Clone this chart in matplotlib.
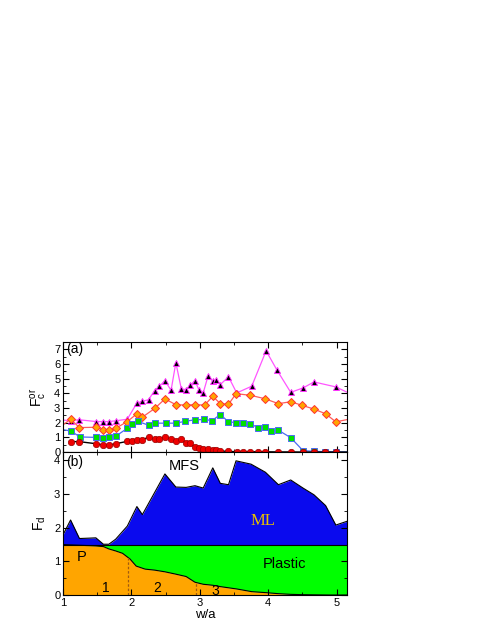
import numpy as np
import matplotlib
matplotlib.use("Agg")
from matplotlib import pyplot as plt
from matplotlib.ticker import MultipleLocator

plt.rcParams['font.family'] = ['Liberation Sans', 'DejaVu Sans']
plt.rcParams['mathtext.fontset'] = 'custom'
plt.rcParams['mathtext.rm'] = 'Liberation Sans'
plt.rcParams['mathtext.it'] = 'Liberation Sans'

# panel (a): critical forces, four curves
tri_x = [0.9, 1.11, 1.24, 1.48, 1.59, 1.67, 1.77, 1.94, 2.08, 2.16, 2.25, 2.34, 2.41,
         2.49, 2.58, 2.65, 2.73, 2.80, 2.86, 2.93, 2.99, 3.05, 3.12, 3.19, 3.24, 3.30,
         3.42, 3.54, 3.76, 3.97, 4.13, 4.33, 4.51, 4.67, 4.99, 5.3]
tri_y = [2.2, 2.15, 2.2, 2.08, 2.08, 2.08, 2.13, 2.24, 3.34, 3.46, 3.57, 4.19, 4.49,
         4.87, 4.21, 6.09, 4.30, 4.26, 4.55, 4.87, 4.21, 4.03, 5.17, 4.83, 4.94, 4.6,
         5.13, 4.03, 4.49, 6.9, 5.58, 4.07, 4.37, 4.78, 4.44, 3.76]

dia_x = [0.9, 1.11, 1.24, 1.48, 1.59, 1.67, 1.77, 1.94, 2.08, 2.16, 2.34, 2.49, 2.65,
         2.80, 2.93, 3.07, 3.19, 3.30, 3.42, 3.53, 3.74, 3.95, 4.15, 4.33, 4.50, 4.67,
         4.84, 4.99, 5.3]
dia_y = [1.5, 2.24, 1.67, 1.69, 1.51, 1.51, 1.62, 2.08, 2.61, 2.38, 2.97, 3.62, 3.23,
         3.2, 3.23, 3.2, 3.8, 3.3, 3.25, 3.98, 3.87, 3.64, 3.3, 3.43, 3.18, 2.93,
         2.61, 2.06, 2.35]

sq_x = [0.9, 1.11, 1.25, 1.48, 1.59, 1.67, 1.77, 1.94, 2.01, 2.09, 2.25, 2.34, 2.50,
        2.65, 2.79, 2.93, 3.06, 3.18, 3.30, 3.42, 3.53, 3.63, 3.74, 3.85, 3.95, 4.04,
        4.15, 4.33, 4.51, 4.67, 4.83, 4.99, 5.3]
sq_y = [1.6, 1.44, 1.03, 1.0, 0.98, 1.0, 1.08, 1.62, 1.88, 2.1, 1.83, 1.97, 1.97,
        1.97, 2.1, 2.2, 2.22, 2.15, 2.56, 2.06, 2.01, 1.95, 1.92, 1.67, 1.74, 1.44,
        1.49, 0.98, 0.1, 0.05, 0.03, 0.02, 0.0]

circ_x = [1.11, 1.24, 1.48, 1.59, 1.67, 1.77, 1.94, 2.01, 2.08, 2.16, 2.25, 2.34, 2.41,
          2.49, 2.58, 2.65, 2.73, 2.80, 2.86, 2.93, 2.99, 3.05, 3.12, 3.19, 3.24, 3.30,
          3.42, 3.54, 3.63, 3.74, 3.85, 3.95, 4.15, 4.33, 4.51, 4.67, 4.83, 4.99, 5.3]
circ_y = [0.71, 0.71, 0.57, 0.48, 0.48, 0.57, 0.73, 0.76, 0.82, 0.85, 1.01, 0.87, 0.87,
          1.05, 0.87, 0.78, 0.87, 0.62, 0.62, 0.32, 0.30, 0.21, 0.20, 0.16, 0.12, 0.08,
          0.04, 0.03, 0.02, 0.02, 0.02, 0.02, 0.01, 0.01, 0.0, 0.0, 0.0, 0.0, 0.0]

# panel (b): dynamic phase diagram
mfs_x = [1.0, 1.11, 1.24, 1.37, 1.48, 1.59, 1.67, 1.77, 1.94, 2.08, 2.16, 2.34, 2.49,
         2.65, 2.80, 2.93, 3.05, 3.19, 3.30, 3.42, 3.53, 3.75, 3.96, 4.15, 4.33, 4.51,
         4.67, 4.84, 4.99, 5.15]
mfs_y = [1.79, 2.23, 1.68, 1.69, 1.70, 1.51, 1.51, 1.66, 2.05, 2.63, 2.39, 3.05, 3.60,
         3.21, 3.20, 3.25, 3.18, 3.78, 3.32, 3.28, 3.99, 3.89, 3.65, 3.28, 3.42, 3.18,
         2.98, 2.66, 2.08, 2.19]

p_x = [1.0, 1.24, 1.48, 1.59, 1.67, 1.77, 1.87, 1.98, 2.07, 2.20, 2.34, 2.49, 2.65,
       2.80, 2.93, 3.05, 3.19, 3.30, 3.54, 3.76, 3.97, 4.15, 4.33, 4.51, 4.9, 5.15]
p_y = [1.50, 1.48, 1.46, 1.44, 1.37, 1.31, 1.24, 1.07, 0.86, 0.77, 0.74, 0.69, 0.62,
       0.55, 0.38, 0.32, 0.29, 0.25, 0.18, 0.10, 0.07, 0.04, 0.02, 0.01, 0.0, 0.0]

plastic_level = 1.5
dash_x = [1.95, 2.95]
region_labels = ['1', '2', '3']
region_x = [1.62, 2.38, 3.23]
region_y = [0.2, 0.2, 0.12]

fig = plt.figure(figsize=(4.85, 6.27), dpi=100)
ax1 = fig.add_axes([0.130, 0.279, 0.585, 0.1755])
ax2 = fig.add_axes([0.130, 0.051, 0.585, 0.228])

ax1.plot(tri_x, tri_y, '-^', color='#ff55ff', lw=0.9, ms=4.5,
         mfc='black', mec='#ff33ff', mew=0.7)
ax1.plot(dia_x, dia_y, '-D', color='#ff5a5a', lw=0.9, ms=3.6,
         mfc='#ffa500', mec='#ff3030', mew=0.7)
ax1.plot(sq_x, sq_y, '-s', color='#4a6cf0', lw=0.9, ms=4.0,
         mfc='#00e000', mec='#4a6cf0', mew=0.7)
ax1.plot(circ_x, circ_y, '-o', color='black', lw=1.0, ms=4.6,
         mfc='#ee0000', mec='#990000', mew=0.5)

ax1.set_xlim(1, 5.15)
ax1.set_ylim(0, 7.5)
ax1.set_ylabel(r'F$_c^{or}$', fontsize=10)
ax1.text(1.05, 7.0, '(a)', fontsize=10, va='center')
ax1.tick_params(labelbottom=False)

# panel (b)
mx = np.array(mfs_x)
my = np.array(mfs_y)
ax2.fill_between(mx, plastic_level, my, color='#0a0aee', lw=0)
ax2.plot(mx, my, color='black', lw=0.8)
px = np.array(p_x)
py = np.array(p_y)
ax2.fill_between(px, py, plastic_level, color='#00ff00', lw=0)
ax2.fill_between(px, 0, py, color='#ffa500', lw=0)
ax2.plot(px, py, color='black', lw=0.8)
ax2.axhline(plastic_level, color='black', lw=0.8)
for xd in dash_x:
    ax2.plot([xd, xd], [0, np.interp(xd, px, py)], ls=(0, (2, 1.5)),
             color='#a05a10', lw=0.9)

ax2.text(2.77, 3.84, 'MFS', fontsize=10.5, ha='center', va='center')
ax2.text(3.92, 2.2, 'ML', fontsize=12, ha='center', va='center',
         color='#e8c000', family='Liberation Serif')
ax2.text(4.24, 0.92, 'Plastic', fontsize=10.5, ha='center', va='center')
ax2.text(1.27, 1.12, 'P', fontsize=10.5, ha='center', va='center')
for lab, xr, yr in zip(region_labels, region_x, region_y):
    ax2.text(xr, yr, lab, fontsize=10, ha='center', va='center')
ax2.text(1.05, 3.95, '(b)', fontsize=10, va='center')

ax2.set_xlim(1, 5.15)
ax2.set_ylim(0, 4.25)
ax2.set_xlabel('w/a', fontsize=9.5, labelpad=1)
ax2.set_ylabel(r'F$_d$', fontsize=10)

for ax in (ax1, ax2):
    ax.xaxis.set_major_locator(MultipleLocator(1))
    ax.xaxis.set_minor_locator(MultipleLocator(0.5))
    ax.yaxis.set_major_locator(MultipleLocator(1))
    ax.yaxis.set_minor_locator(MultipleLocator(0.5))
    ax.tick_params(which='both', direction='in', top=True, right=True,
                   labelsize=8, pad=2)
    ax.tick_params(which='major', length=4)
    ax.tick_params(which='minor', length=2)
    for sp in ax.spines.values():
        sp.set_linewidth(0.8)

fig.savefig('out.png', dpi=100)
